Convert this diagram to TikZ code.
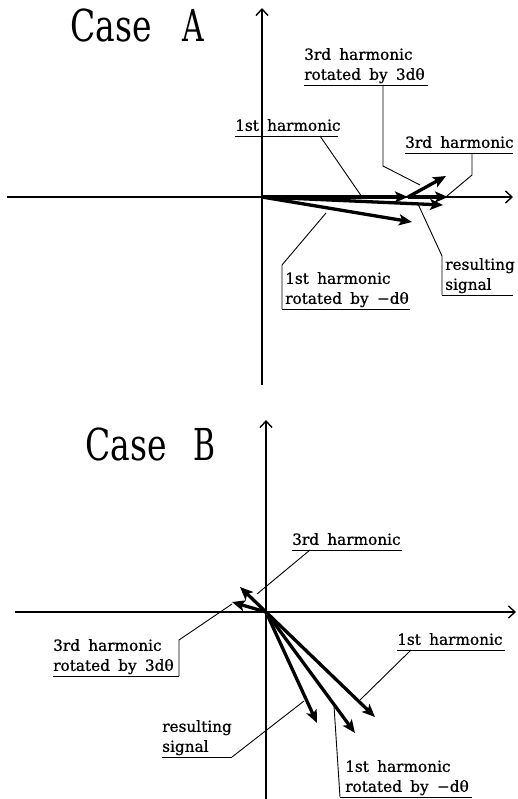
\documentclass[tikz,border=0pt]{standalone}
\usepackage{fontspec}
\setmainfont{DejaVu Serif}[WordSpace=1.7,FakeBold=0.8]
\newfontfamily\titlefont{DejaVu Serif}
\usetikzlibrary{arrows.meta}
\tikzset{
  vec/.style={line width=3.3pt, -{Stealth[length=13pt,width=11pt,inset=3pt]}},
  axis/.style={line width=1.4pt, -{Straight Barb[length=6.5pt,width=12pt]}},
  lead/.style={line width=0.9pt},
  lab/.style={font=\fontsize{15.3}{20}\selectfont, align=left, inner xsep=0pt, inner ysep=1pt, text depth=4pt, anchor=south west},
  ttl/.style={font=\titlefont\fontsize{44}{44}\selectfont, inner sep=0pt, anchor=base west}
}
\begin{document}
\begin{tikzpicture}[x=1pt,y=-1pt]
\useasboundingbox (0,0) rectangle (517,799);

% ---------------- Case A ----------------
\node[ttl] (tA1) at (70,42) {\scalebox{0.75}[1]{Case}};
\node[ttl] (tA2) at (182,42) {\scalebox{0.68}[1]{A}};

\coordinate (O1) at (262,197);
\coordinate (Ay1) at (262,385); \coordinate (Ay2) at (262,8);
\coordinate (Ax1) at (7,197);   \coordinate (Ax2) at (513,197);
\draw[axis] (Ay1) -- (Ay2);
\draw[axis] (Ax1) -- (Ax2);

\coordinate (a1) at (408,197);
\coordinate (a3) at (448,197);
\coordinate (a3r) at (446,176);
\coordinate (a1r) at (412,222);
\coordinate (aR) at (443,205);
\draw[vec] (O1) -- (a1);
\draw[vec] (a1) -- (a3);
\draw[vec] (a1) -- (a3r);
\draw[vec] (O1) -- (a1r);
\draw[vec] (O1) -- (aR);

\node[lab] (LA1) at (235,136) {1st harmonic};
\draw[lead] (235,136) -- (338,136);
\coordinate (pA1) at (320,136); \coordinate (eA1) at (362,197);
\draw[lead] (pA1) -- (eA1);

\node[lab] (LA3r) at (304,85) {3rd harmonic\\rotated by 3dθ};
\draw[lead] (304,85) -- (428,85);
\coordinate (pA3r) at (383,85); \coordinate (eA3r) at (420,185);
\draw[lead] (pA3r) -- (383,166) -- (eA3r);

\node[lab] (LA3) at (405,153) {3rd harmonic};
\draw[lead] (405,153) -- (513,153);
\coordinate (pA3) at (472,153); \coordinate (eA3) at (447,196);
\draw[lead] (pA3) -- (472,175) -- (eA3);

\node[lab] (LAR) at (445,295) {resulting\\signal};
\draw[lead] (442,295) -- (513,295);
\coordinate (pAR) at (442,295); \coordinate (eAR) at (418,204);
\draw[lead] (pAR) -- (442,256) -- (eAR);

\node[lab] (LA1r) at (285,309) {1st harmonic\\rotated by −dθ};
\draw[lead] (282,309) -- (410,309);
\coordinate (pA1r) at (282,309); \coordinate (eA1r) at (326,213);
\draw[lead] (pA1r) -- (282,265) -- (eA1r);

% ---------------- Case B ----------------
\node[ttl] (tB1) at (85,460) {\scalebox{0.75}[1]{Case}};
\node[ttl] (tB2) at (193,460) {\scalebox{0.68}[1]{B}};

\coordinate (O2) at (266,612);
\coordinate (By1) at (266,799); \coordinate (By2) at (266,420);
\coordinate (Bx1) at (15,612);  \coordinate (Bx2) at (516,612);
\draw[axis] (By1) -- (By2);
\draw[axis] (Bx1) -- (Bx2);

\coordinate (b3) at (240,587);
\coordinate (b3r) at (232,602);
\coordinate (b1) at (375,717);
\coordinate (b1r) at (355,733);
\coordinate (bR) at (317,723);
\draw[vec] (O2) -- (b3);
\draw[vec] (O2) -- (b3r);
\draw[vec] (O2) -- (b1);
\draw[vec] (O2) -- (b1r);
\draw[vec] (O2) -- (bR);

\node[lab] (LB3) at (292,550) {3rd harmonic};
\draw[lead] (292,550) -- (402,550);
\coordinate (pB3) at (310,550); \coordinate (eB3) at (257,594);
\draw[lead] (pB3) -- (eB3);

\node[lab] (LB3r) at (53,676) {3rd harmonic\\rotated by 3dθ};
\draw[lead] (53,676) -- (179,676);
\coordinate (pB3r) at (179,676); \coordinate (eB3r) at (232,604);
\draw[lead] (pB3r) -- (179,640) -- (eB3r);

\node[lab] (LB1) at (397,650) {1st harmonic};
\draw[lead] (397,650) -- (505,650);
\coordinate (pB1) at (411,650); \coordinate (eB1) at (360,700);
\draw[lead] (pB1) -- (eB1);

\node[lab] (LBR) at (162,757) {resulting\\signal};
\draw[lead] (162,757) -- (232,757);
\coordinate (pBR) at (232,757); \coordinate (eBR) at (304,701);
\draw[lead] (pBR) -- (eBR);

\node[lab] (LB1r) at (345,797) {1st harmonic\\rotated by −dθ};
\draw[lead] (340,797) -- (472,797);
\coordinate (pB1r) at (340,797); \coordinate (eB1r) at (334,706);
\draw[lead] (pB1r) -- (eB1r);
\end{tikzpicture}
\end{document}
